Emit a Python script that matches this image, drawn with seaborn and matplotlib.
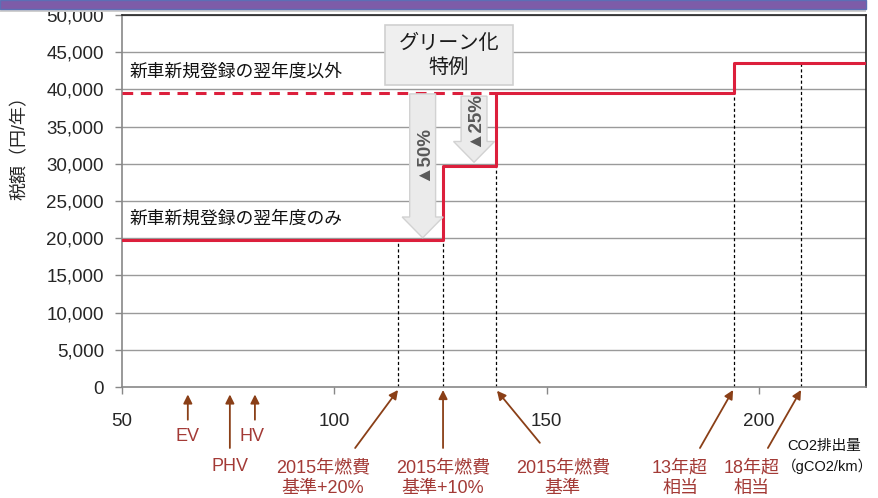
import matplotlib
matplotlib.use("Agg")
import matplotlib.pyplot as plt
import seaborn as sns
import pandas as pd
from matplotlib.patches import FancyArrow, Rectangle

# ---- data ----
step_x = [50, 125.6, 138, 194, 225.2]
step_y = [19800, 29700, 39500, 43500, 43500]
dashed_x = [50, 138]
dashed_y = [39500, 39500]
guide_x = [115, 125.6, 138, 194, 210]
guide_top = [19800, 19800, 29700, 39500, 43500]
xticks = [50, 100, 150, 200]
yticks = list(range(0, 50001, 5000))

sns.set_theme(style="white")
FAM = ['Liberation Sans', 'Noto Sans CJK JP', 'DejaVu Sans']
plt.rcParams['font.family'] = FAM

fig = plt.figure(figsize=(8.79, 4.98), dpi=100)
ax = fig.add_axes([122/879, 1-387/498, (866-122)/879, (387-15)/498])

# purple banner at top
fig.patches.append(Rectangle((0, 1-12/498), 866/879, 4/498, transform=fig.transFigure,
                             facecolor='#cfcfcf', edgecolor='none', zorder=0))
fig.patches.append(Rectangle((0, 1-9/498), 866/879, 9/498, transform=fig.transFigure,
                             facecolor='#7d5ca8', edgecolor='#5b6fb5', lw=1, zorder=1))

ax.set_xlim(50, 225.2)
ax.set_ylim(0, 50000)
ax.set_yticks(yticks)
ax.set_yticklabels([f"{v:,}" for v in yticks])
ax.set_xticks(xticks)
ax.set_xticklabels([str(v) for v in xticks])
for v in yticks[1:]:
    ax.axhline(v, color='#9a9a9a', lw=1.0, zorder=1)

# guides
for gx, gt in zip(guide_x, guide_top):
    ax.plot([gx, gx], [0, gt], color='black', lw=0.9, ls=(0, (2.5, 2.0)), zorder=2)

df = pd.DataFrame({'x': step_x, 'y': step_y})
sns.lineplot(data=df, x='x', y='y', drawstyle='steps-post', color='#dc1f3c',
             lw=2.2, estimator=None, ax=ax, zorder=4)
dfd = pd.DataFrame({'x': dashed_x, 'y': dashed_y})
sns.lineplot(data=dfd, x='x', y='y', color='#dc1f3c', lw=2.2, ls=(0, (3.5, 2.5)),
             estimator=None, ax=ax, zorder=4)

ax.set_xlabel('')
ax.set_ylabel('税額（円/年）', fontsize=13)
ax.yaxis.set_label_coords(-0.125, 0.655)

for s in ['top', 'right']:
    ax.spines[s].set_color('#222222')
    ax.spines[s].set_linewidth(1.2)
for s in ['left', 'bottom']:
    ax.spines[s].set_color('#888888')
    ax.spines[s].set_linewidth(1.2)
ax.tick_params(axis='y', left=True, length=5, width=1, color='#888888', pad=8, labelsize=13.5)
ax.tick_params(axis='x', bottom=True, length=5, width=1, color='#888888', pad=14, labelsize=13.5)

# block arrows
for cx, ytop, ytip, txt, ty in [(120.8, 39400, 20050, '▲50%', 31450),
                                (132.9, 39100, 30200, '▲25%', 36000)]:
    a = FancyArrow(cx, ytop, 0, ytip - ytop, width=6.1, head_width=9.65, head_length=2800,
                   length_includes_head=True, facecolor='#ebebeb', edgecolor='#d2d2d2',
                   lw=1, zorder=5)
    ax.add_patch(a)
    ax.text(cx, ty, txt, rotation=90, ha='center', va='center', fontsize=13.5,
            fontweight='bold', color='#595959', zorder=6)

# green box
ax.add_patch(Rectangle((111.9, 40600), 30.2, 8050, facecolor='#efefef', edgecolor='#d0d0d0',
                       lw=1.2, zorder=5))
ax.text(127.0, 44600, 'グリーン化\n特例', ha='center', va='center', fontsize=14.5,
        color='#1a1a1a', linespacing=1.3, zorder=6)

ax.text(51.8, 42300, '新車新規登録の翌年度以外', ha='left', va='center', fontsize=12.8,
        color='#111111', zorder=6)
ax.text(51.8, 22600, '新車新規登録の翌年度のみ', ha='left', va='center', fontsize=12.8,
        color='#111111', zorder=6)

# bottom annotations
acol = '#8a3f17'
tcol = '#a33a36'
arrows = [((65.5, -4400), (65.5, -1000)),
          ((75.4, -8200), (75.4, -1000)),
          ((81.3, -4400), (81.3, -1000)),
          ((104.9, -8200), (115, -400)),
          ((125.6, -8200), (125.6, -400)),
          ((148.4, -7500), (138.3, -500)),
          ((186.1, -8200), (193.9, -400)),
          ((202.1, -8200), (209.9, -400))]
for (t, h) in arrows:
    ax.annotate('', xy=h, xytext=t, xycoords='data', textcoords='data',
                arrowprops=dict(arrowstyle='-|>', color=acol, lw=1.3, mutation_scale=13,
                                shrinkA=0, shrinkB=0),
                annotation_clip=False)

labels = [(65.5, -6700, 'EV'), (75.4, -10750, 'PHV'), (80.6, -6700, 'HV'),
          (97.3, -12250, '2015年燃費\n基準+20%'), (125.6, -12250, '2015年燃費\n基準+10%'),
          (153.8, -12250, '2015年燃費\n基準'), (181.4, -12250, '13年超\n相当'),
          (198.3, -12250, '18年超\n相当')]
for x, y, s in labels:
    ax.text(x, y, s, ha='center', va='center', fontsize=13, color=tcol,
            linespacing=1.25, clip_on=False)

ax.text(206.6, -7900, 'CO2排出量', ha='left', va='center', fontsize=10.5, color='#111111',
        clip_on=False)
ax.text(205.4, -10600, '（gCO2/km）', ha='left', va='center', fontsize=10.5, color='#111111',
        clip_on=False)

fig.savefig('out.png', dpi=100)
